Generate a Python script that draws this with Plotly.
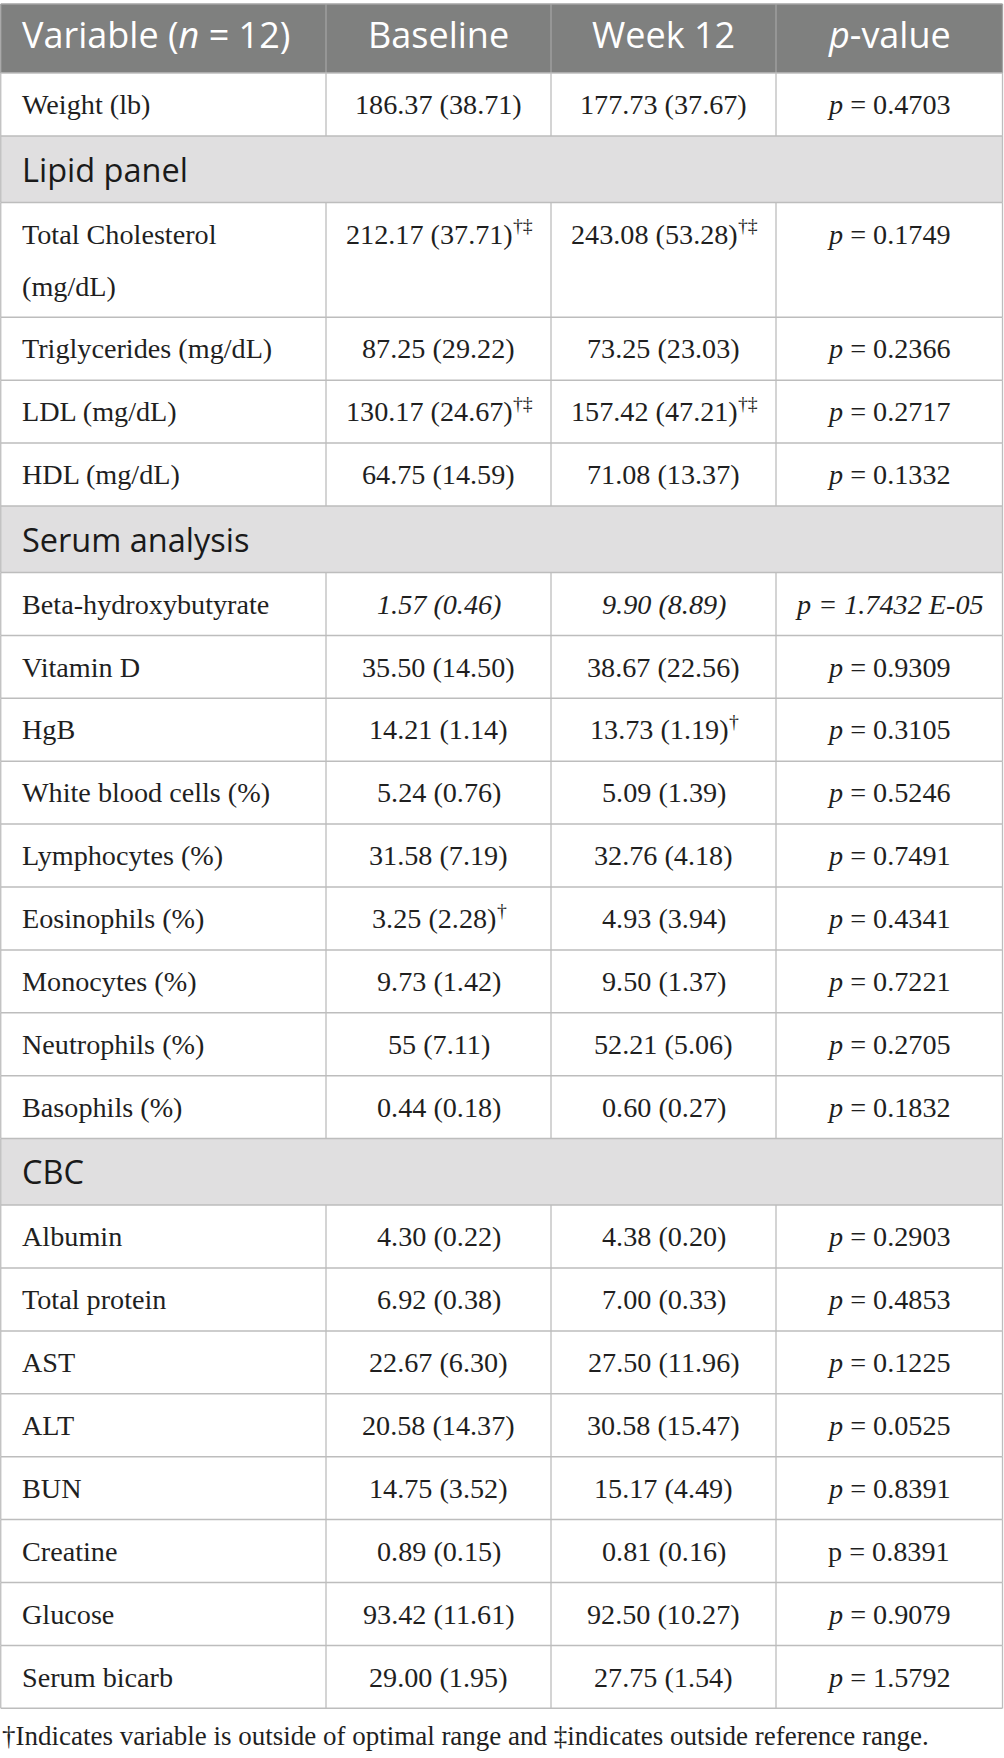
import plotly.graph_objects as go

# ---------------- data ----------------
columns = ["Variable (<i>n</i> = 12)", "Baseline", "Week 12", "<i>p</i>-value"]

row_labels = [
    "Weight (lb)",
    "Lipid panel",
    "Total Cholesterol<br>(mg/dL)",
    "Triglycerides (mg/dL)",
    "LDL (mg/dL)",
    "HDL (mg/dL)",
    "Serum analysis",
    "Beta-hydroxybutyrate",
    "Vitamin D",
    "HgB",
    "White blood cells (%)",
    "Lymphocytes (%)",
    "Eosinophils (%)",
    "Monocytes (%)",
    "Neutrophils (%)",
    "Basophils (%)",
    "CBC",
    "Albumin",
    "Total protein",
    "AST",
    "ALT",
    "BUN",
    "Creatine",
    "Glucose",
    "Serum bicarb",
]

section_rows = ["Lipid panel", "Serum analysis", "CBC"]

baseline = [
    "186.37 (38.71)", None, "212.17 (37.71)", "87.25 (29.22)", "130.17 (24.67)",
    "64.75 (14.59)", None, "1.57 (0.46)", "35.50 (14.50)", "14.21 (1.14)",
    "5.24 (0.76)", "31.58 (7.19)", "3.25 (2.28)", "9.73 (1.42)", "55 (7.11)",
    "0.44 (0.18)", None, "4.30 (0.22)", "6.92 (0.38)", "22.67 (6.30)",
    "20.58 (14.37)", "14.75 (3.52)", "0.89 (0.15)", "93.42 (11.61)", "29.00 (1.95)",
]
baseline_marks = [
    "", None, "†‡", "", "†‡", "", None, "", "", "", "", "", "†", "", "", "",
    None, "", "", "", "", "", "", "", "",
]

week12 = [
    "177.73 (37.67)", None, "243.08 (53.28)", "73.25 (23.03)", "157.42 (47.21)",
    "71.08 (13.37)", None, "9.90 (8.89)", "38.67 (22.56)", "13.73 (1.19)",
    "5.09 (1.39)", "32.76 (4.18)", "4.93 (3.94)", "9.50 (1.37)", "52.21 (5.06)",
    "0.60 (0.27)", None, "4.38 (0.20)", "7.00 (0.33)", "27.50 (11.96)",
    "30.58 (15.47)", "15.17 (4.49)", "0.81 (0.16)", "92.50 (10.27)", "27.75 (1.54)",
]
week12_marks = [
    "", None, "†‡", "", "†‡", "", None, "", "", "†", "", "", "", "", "", "",
    None, "", "", "", "", "", "", "", "",
]

p_values = [
    "0.4703", None, "0.1749", "0.2366", "0.2717", "0.1332", None, "1.7432 E-05",
    "0.9309", "0.3105", "0.5246", "0.7491", "0.4341", "0.7221", "0.2705", "0.1832",
    None, "0.2903", "0.4853", "0.1225", "0.0525", "0.8391", "0.8391", "0.9079", "1.5792",
]

italic_rows = ["Beta-hydroxybutyrate"]
upright_p_rows = ["Creatine"]

footnote = "†Indicates variable is outside of optimal range and ‡indicates outside reference range."

# ---------------- layout constants ----------------
W, H = 1004, 1758
COL_EDGES = [0.75, 326, 551, 776, 1002.5]
TOP = 4
HEADER_H = 69
ROW_H = 62.9
SEC_H = 66.5
LINE_GAP = 52
LABEL_X = 21

HEADER_FILL = "#7f807f"
SECTION_FILL = "#e0dfe0"
GRID = "#bdbdbd"
HEADER_GRID = "#a3a3a3"
TEXT = "#1f1f1f"

SANS = "Open Sans"
SERIF = "Liberation Serif"
BODY_SIZE = 28.2
HEAD_SIZE = 36
SEC_SIZE = 32.5
FOOT_SIZE = 27
MARK_SIZE = BODY_SIZE * 0.7

SERIF_BASE = 0.3375   # baseline offset from centre (em) for serif
SANS_BASE = 0.388     # baseline offset from centre (em) for sans

# advance widths (em) of Liberation Serif glyphs used in the value cells
CHAR_W = {**{d: 0.5 for d in "0123456789"}, ".": 0.25, " ": 0.25, "(": 0.333, ")": 0.333,
          "†": 0.5, "‡": 0.5}


def text_w(s, size):
    return sum(CHAR_W.get(c, 0.5) for c in s) * size


shapes = []
annotations = []


def hline(y, color=GRID, width=1.5):
    shapes.append(dict(type="line", xref="x", yref="y", x0=COL_EDGES[0], x1=COL_EDGES[-1],
                       y0=y, y1=y, line=dict(color=color, width=width), layer="above"))


def vline(x, y0, y1, color=GRID, width=1.3):
    shapes.append(dict(type="line", xref="x", yref="y", x0=x, x1=x, y0=y0, y1=y1,
                       line=dict(color=color, width=width), layer="above"))


def rect(y0, y1, fill):
    shapes.append(dict(type="rect", xref="x", yref="y", x0=COL_EDGES[0], x1=COL_EDGES[-1],
                       y0=y0, y1=y1, fillcolor=fill, line=dict(width=0), layer="below"))


def text(x, y, s, family, size, color, anchor):
    annotations.append(dict(x=x, y=y, xref="x", yref="y", text=s, showarrow=False,
                            xanchor=anchor, yanchor="middle", borderpad=0,
                            font=dict(family=family, size=size, color=color)))


def value_with_marks(cx, y, val, marks):
    if not marks:
        text(cx, y, val, SERIF, BODY_SIZE, TEXT, "center")
        return
    vw = text_w(val, BODY_SIZE)
    mw = text_w(marks, MARK_SIZE)
    left = cx - (vw + mw) / 2
    text(left, y, val, SERIF, BODY_SIZE, TEXT, "left")
    # superscript: baseline raised by 0.42 em of the body size
    base = y + SERIF_BASE * BODY_SIZE - 0.42 * BODY_SIZE
    text(left + vw, base - SERIF_BASE * MARK_SIZE, marks, SERIF, MARK_SIZE, TEXT, "left")


centers = [(COL_EDGES[i] + COL_EDGES[i + 1]) / 2 for i in range(4)]

# header
y0 = TOP
y1 = TOP + HEADER_H
rect(y0, y1, HEADER_FILL)
head_y = y0 + HEADER_H / 2 + 9.8 - SANS_BASE * HEAD_SIZE
for i, c in enumerate(columns):
    if i == 0:
        text(LABEL_X, head_y, c, SANS, HEAD_SIZE, "white", "left")
    else:
        text(centers[i], head_y, c, SANS, HEAD_SIZE, "white", "center")
for xe in COL_EDGES[1:-1]:
    vline(xe, y0, y1, HEADER_GRID)
vline(COL_EDGES[0], y0, y1, HEADER_GRID)
vline(COL_EDGES[-1], y0, y1, HEADER_GRID)
hline(y0, HEADER_GRID)

# body rows
y = y1
for i, lab in enumerate(row_labels):
    is_sec = lab in section_rows
    lines = lab.split("<br>")
    if is_sec:
        h = SEC_H
    else:
        h = ROW_H + LINE_GAP * (len(lines) - 1)
    top, bot = y, y + h
    if is_sec:
        rect(top, bot, SECTION_FILL)
        ty = top + h / 2 + 12.5 - SANS_BASE * SEC_SIZE
        text(LABEL_X, ty, lab, SANS, SEC_SIZE, "#1a1a1a", "left")
    else:
        ty = top + ROW_H / 2 + 9.7 - SERIF_BASE * BODY_SIZE
        for k, ln in enumerate(lines):
            text(LABEL_X, ty + k * LINE_GAP, ln, SERIF, BODY_SIZE, TEXT, "left")
        if lab in italic_rows:
            text(centers[1], ty, f"<i>{baseline[i]}</i>", SERIF, BODY_SIZE, TEXT, "center")
            text(centers[2], ty, f"<i>{week12[i]}</i>", SERIF, BODY_SIZE, TEXT, "center")
            ptxt = f"<i>p = {p_values[i]}</i>"
        else:
            value_with_marks(centers[1], ty, baseline[i], baseline_marks[i])
            value_with_marks(centers[2], ty, week12[i], week12_marks[i])
            if lab in upright_p_rows:
                ptxt = f"p = {p_values[i]}"
            else:
                ptxt = f"<i>p</i> = {p_values[i]}"
        text(centers[3], ty, ptxt, SERIF, BODY_SIZE, TEXT, "center")
        for xe in COL_EDGES[1:-1]:
            vline(xe, top, bot)
    vline(COL_EDGES[0], top, bot)
    vline(COL_EDGES[-1], top, bot)
    hline(top)
    y = bot
hline(y)

# footnote
text(1, 1745 - SERIF_BASE * FOOT_SIZE, footnote, SERIF, FOOT_SIZE, TEXT, "left")

fig = go.Figure()
fig.update_layout(
    width=W, height=H,
    margin=dict(l=0, r=0, t=0, b=0),
    paper_bgcolor="white", plot_bgcolor="white",
    xaxis=dict(range=[0, W], visible=False, fixedrange=True),
    yaxis=dict(range=[H, 0], visible=False, fixedrange=True),
    shapes=shapes, annotations=annotations, showlegend=False,
)
fig.write_html(
    "out.html",
    config={"displayModeBar": False},
    post_script="document.body.style.margin='0';document.body.style.overflow='hidden';",
)
